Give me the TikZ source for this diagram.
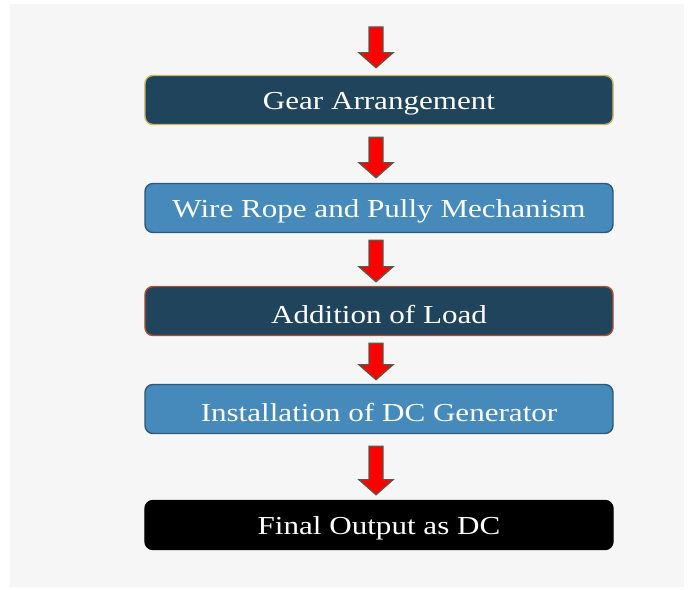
\documentclass[tikz,border=0pt]{standalone}
\usepackage{fontspec}
\setmainfont{Liberation Serif}
\usetikzlibrary{calc}
\definecolor{panel}{HTML}{F6F6F6}
\definecolor{darkbox}{HTML}{1F445C}
\definecolor{lightbox}{HTML}{468ABC}
\definecolor{goldedge}{HTML}{C9B55A}
\definecolor{blueedge}{HTML}{2E5A7A}
\definecolor{rustedge}{HTML}{B0502F}
\definecolor{arrowedge}{HTML}{5A5A48}
\newcommand\wide[1]{\raisebox{-3.5bp}[\height][\depth]{\scalebox{1.2}[1]{#1}}}
\newcommand\farrow[2]{%
  \draw[fatarrow] let \p1=(#1), \p2=(#2) in
    (\x1-7bp,\y1) -- (\x1+7bp,\y1) -- (\x1+7bp,\y2+15bp) -- (\x1+17bp,\y2+15bp)
    -- (\x2,\y2) -- (\x1-17bp,\y2+15bp) -- (\x1-7bp,\y2+15bp) -- cycle;}
\begin{document}
\begin{tikzpicture}[x=1bp,y=-1bp,
  stepbox/.style={rectangle, rounded corners=8bp, minimum width=468bp, minimum height=49bp,
    line width=1.4bp, text=white, font=\fontsize{26}{30}\selectfont, inner sep=0pt},
  darkstep/.style={stepbox, fill=darkbox},
  lightstep/.style={stepbox, fill=lightbox, draw=blueedge},
  fatarrow/.style={fill=red, draw=arrowedge, line width=1.2bp, line join=miter}]
\useasboundingbox (0,0) rectangle (695,590);
\fill[white] (0,0) rectangle (695,590);
\fill[panel] (10,4) rectangle (684,587);
\node[darkstep, draw=goldedge] (b1) at (379,100) {\wide{Gear Arrangement}};
\node[lightstep] (b2) at (379,208) {\wide{Wire Rope and Pully Mechanism}};
\node[darkstep, draw=rustedge] (b3) at (379,311) {\wide{Addition of Load}};
\node[lightstep] (b4) at (379,409) {\wide{Installation of DC Generator}};
\node[stepbox, fill=black, draw=black] (b5) at (379,525) {\wide{Final Output as DC}};
\coordinate (a0) at (376,27);
\coordinate (t1) at ($(b1.north)+(-3,-7)$);
\farrow{a0}{t1}
\coordinate (s2) at ($(b1.south)+(-3,12)$);
\coordinate (t2) at ($(b2.north)+(-3,-5)$);
\farrow{s2}{t2}
\coordinate (s3) at ($(b2.south)+(-3,7)$);
\coordinate (t3) at ($(b3.north)+(-3,-4)$);
\farrow{s3}{t3}
\coordinate (s4) at ($(b3.south)+(-3,7)$);
\coordinate (t4) at ($(b4.north)+(-3,-4)$);
\farrow{s4}{t4}
\coordinate (s5) at ($(b4.south)+(-3,12)$);
\coordinate (t5) at ($(b5.north)+(-3,-5)$);
\farrow{s5}{t5}
\end{tikzpicture}
\end{document}
